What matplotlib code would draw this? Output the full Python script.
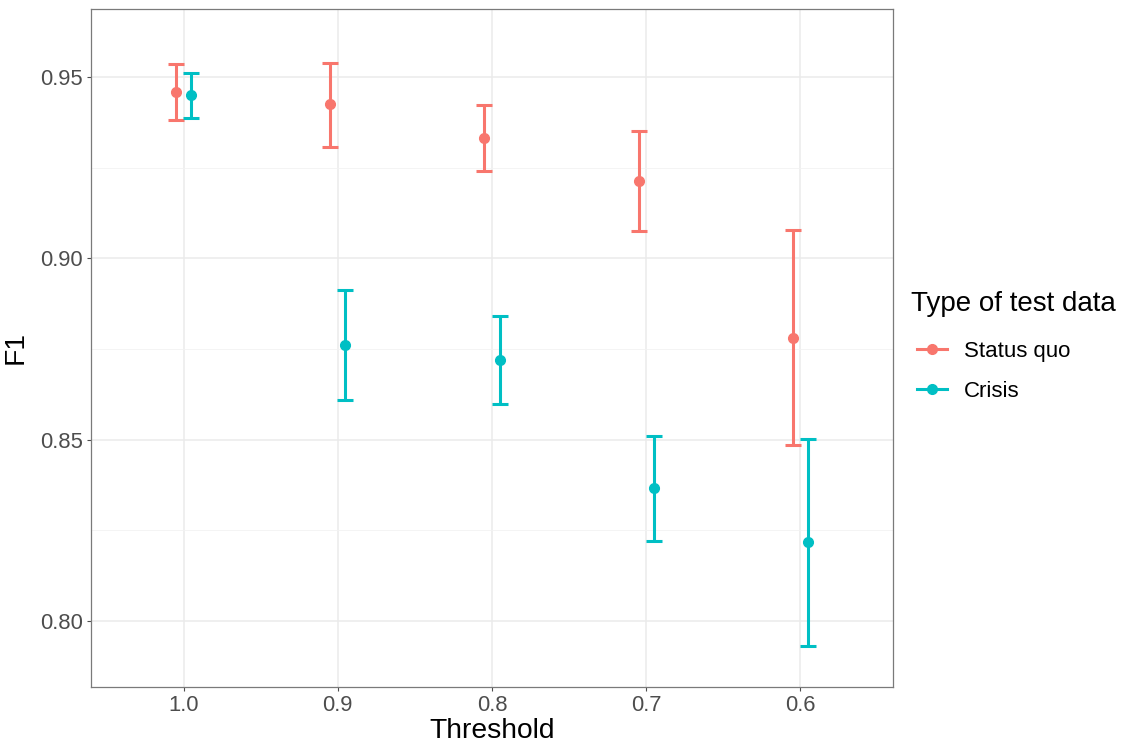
import matplotlib
matplotlib.use("Agg")
import matplotlib.pyplot as plt
import numpy as np
from matplotlib.lines import Line2D

plt.rcParams['font.family'] = ['Liberation Sans', 'DejaVu Sans']

thresholds = ["1.0", "0.9", "0.8", "0.7", "0.6"]
groups = ["Status quo", "Crisis"]
colors = ["#F8766D", "#00BFC4"]

sq_mean = [0.9459, 0.9426, 0.9332, 0.9213, 0.8780]
sq_low = [0.9381, 0.9307, 0.9241, 0.9075, 0.8485]
sq_high = [0.9536, 0.9539, 0.9423, 0.9351, 0.9078]

cr_mean = [0.9450, 0.8761, 0.8720, 0.8367, 0.8218]
cr_low = [0.9387, 0.8609, 0.8598, 0.8221, 0.7931]
cr_high = [0.9511, 0.8913, 0.8841, 0.8510, 0.8502]

fig = plt.figure(figsize=(11.27, 7.5), dpi=100)
ax = fig.add_axes([91/1127, 1-687/750, (893-91)/1127, (687-9)/750])

x = np.arange(len(thresholds))
dodge = 0.05
series = [(sq_mean, sq_low, sq_high), (cr_mean, cr_low, cr_high)]
for i, (m, lo, hi) in enumerate(series):
    m = np.array(m); lo = np.array(lo); hi = np.array(hi)
    xs = x + (-dodge if i == 0 else dodge)
    ax.errorbar(xs, m, yerr=[m - lo, hi - m], fmt='none', ecolor=colors[i],
                elinewidth=2.2, capsize=5.8, capthick=2.2, zorder=3)
    ax.plot(xs, m, 'o', color=colors[i], markersize=7, zorder=4)

ax.set_xlim(-0.6, 4.6)
ax.set_ylim(0.7818, 0.9687)
ax.set_xticks(x)
ax.set_xticklabels(thresholds)
ax.set_yticks([0.80, 0.85, 0.90, 0.95])
ax.set_yticklabels(["0.80", "0.85", "0.90", "0.95"])
ax.set_yticks([0.825, 0.875, 0.925], minor=True)

ax.grid(True, which='major', color='#EBEBEB', linewidth=1.1, zorder=0)
ax.grid(True, which='minor', axis='y', color='#F2F2F2', linewidth=0.6, zorder=0)
ax.set_axisbelow(True)
for s in ax.spines.values():
    s.set_color('#7A7A7A')
    s.set_linewidth(0.9)
ax.tick_params(axis='both', which='major', colors='#4D4D4D', length=3, width=0.8,
               labelsize=15.8, labelcolor='#4D4D4D', pad=3)
ax.tick_params(axis='y', which='minor', length=0)

ax.set_xlabel("Threshold", fontsize=20.3, labelpad=1)
ax.set_ylabel("F1", fontsize=20.3, labelpad=8)

fig.text(911/1127, 1-304/750, "Type of test data", fontsize=20, va='center', ha='left')
handles = [Line2D([0], [0], color=c, lw=2.2, marker='o', markersize=7) for c in colors]
leg = fig.legend(handles, groups, loc='upper left',
                 bbox_to_anchor=(917/1127, 1-341/750), frameon=False,
                 fontsize=16, handlelength=1.35, borderpad=0, borderaxespad=0,
                 labelspacing=0.85, handletextpad=0.75)

fig.savefig("out.png", dpi=100)
